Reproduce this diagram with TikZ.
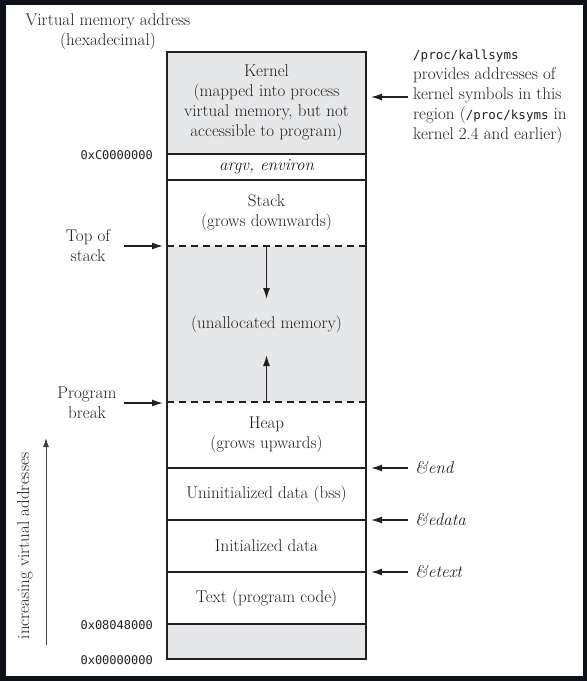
\documentclass[tikz,border=0pt]{standalone}
\usepackage{fontspec}
\usetikzlibrary{arrows.meta}
\newfontfamily\monofont{DejaVu Sans Mono}
\definecolor{framedark}{HTML}{0E111A}
\definecolor{memgrey}{HTML}{E6E7E8}
\definecolor{inkdark}{HTML}{231F20}

\tikzset{
  seg/.style={minimum width=199pt, inner sep=0pt, outer sep=0pt, align=center,
    font=\fontsize{17}{20}\selectfont, text=inkdark},
  note/.style={inner sep=0pt, align=center, font=\fontsize{17}{20}\selectfont, text=inkdark},
  hexlbl/.style={inner sep=0pt, anchor=east, font=\monofont\fontsize{12}{14}\selectfont, text=inkdark},
  ptr/.style={-{Latex[length=11pt,width=7pt]}, line width=1.4pt, draw=inkdark},
  sepline/.style={line width=1.4pt, draw=inkdark},
  gapline/.style={sepline, dash pattern=on 7pt off 5pt},
}

\begin{document}
\begin{tikzpicture}[x=1pt, y=-1pt]

% Draw frame
\fill[framedark] (0,0) rectangle (587,681);
\fill[white] (6,5) rectangle (583,676);

% Draw memory segments, top to bottom
\node[seg, minimum height=102pt, fill=memgrey] (kernel) at (266.5,103)
  {Kernel\\(mapped into process\\virtual memory, but not\\accessible to program)};
\node[seg, minimum height=26pt] (argv) at (266.5,167) {\itshape argv, environ};
\node[seg, minimum height=66pt] (stack) at (266.5,213) {Stack\\(grows downwards)};
\node[seg, minimum height=156pt, fill=memgrey] (unalloc) at (266.5,324) {(unallocated memory)};
\node[seg, minimum height=66pt] (heap) at (266.5,435) {Heap\\(grows upwards)};
\node[seg, minimum height=52pt] (bss) at (266.5,494) {Uninitialized data (bss)};
\node[seg, minimum height=52pt] (init) at (266.5,546) {Initialized data};
\node[seg, minimum height=52pt] (text) at (266.5,598) {Text (program code)};
\node[seg, minimum height=35pt, fill=memgrey] (low) at (266.5,641.5) {};

% Draw segment borders
\foreach \n in {kernel,argv,heap,bss,init,text} {
    \draw[sepline] (\n.south west) -- (\n.south east);
}
\foreach \n in {stack,unalloc} {
    \draw[gapline] (\n.south west) -- (\n.south east);
}
\draw[sepline] (kernel.north west) rectangle (low.south east);

% Draw growth arrows
\coordinate (stacktip) at (266.5,299);
\coordinate (heaptip) at (266.5,355);
\draw[ptr] (stack.south) -- (stacktip);
\draw[ptr] (heap.north) -- (heaptip);

% Draw addresses on the left
\node[note] (title) at (108,32) {Virtual memory address\\(hexadecimal)};
\node[hexlbl] (hexkern) at (153,155) {0xC0000000};
\node[hexlbl] (hextext) at (153,625) {0x08048000};
\node[hexlbl] (hexzero) at (153,660) {0x00000000};

% Draw left pointers
\coordinate (lstart) at (124,0);
\coordinate (ltip) at (163,0);
\node[note] (tos) at (88,246) {Top of\\stack};
\node[note] (brk) at (87,403) {Program\\break};
\foreach \n in {tos,brk} {
    \draw[ptr] (\n.east -| lstart) -- (\n.east -| ltip);
}

% Draw right pointers
\coordinate (rstart) at (408,0);
\coordinate (rtip) at (371,0);
\node[note, anchor=west, align=left] (kallsyms) at (413,97)
  {{\monofont\fontsize{12.5}{20}\selectfont /proc/kallsyms}\\provides addresses of\\kernel symbols in this\\region ({\monofont\fontsize{12.5}{20}\selectfont /proc/ksyms} in\\kernel 2.4 and earlier)};
\node[note, anchor=west] (endsym) at (415,468) {\itshape\&end};
\node[note, anchor=west] (edatasym) at (415,520) {\itshape\&edata};
\node[note, anchor=west] (etextsym) at (415,572) {\itshape\&etext};
\foreach \n in {kallsyms,endsym,edatasym,etextsym} {
    \draw[ptr] (\n.west -| rstart) -- (\n.west -| rtip);
}

% Draw address direction
\coordinate (addrlow) at (46,645);
\coordinate (addrhigh) at (46,438);
\draw[-{Latex[length=9pt,width=6pt]}, line width=1pt, draw=inkdark!85] (addrlow) -- (addrhigh);
\node[note, rotate=90] (addrlbl) at (25,546) {increasing virtual addresses};

\end{tikzpicture}
\end{document}
